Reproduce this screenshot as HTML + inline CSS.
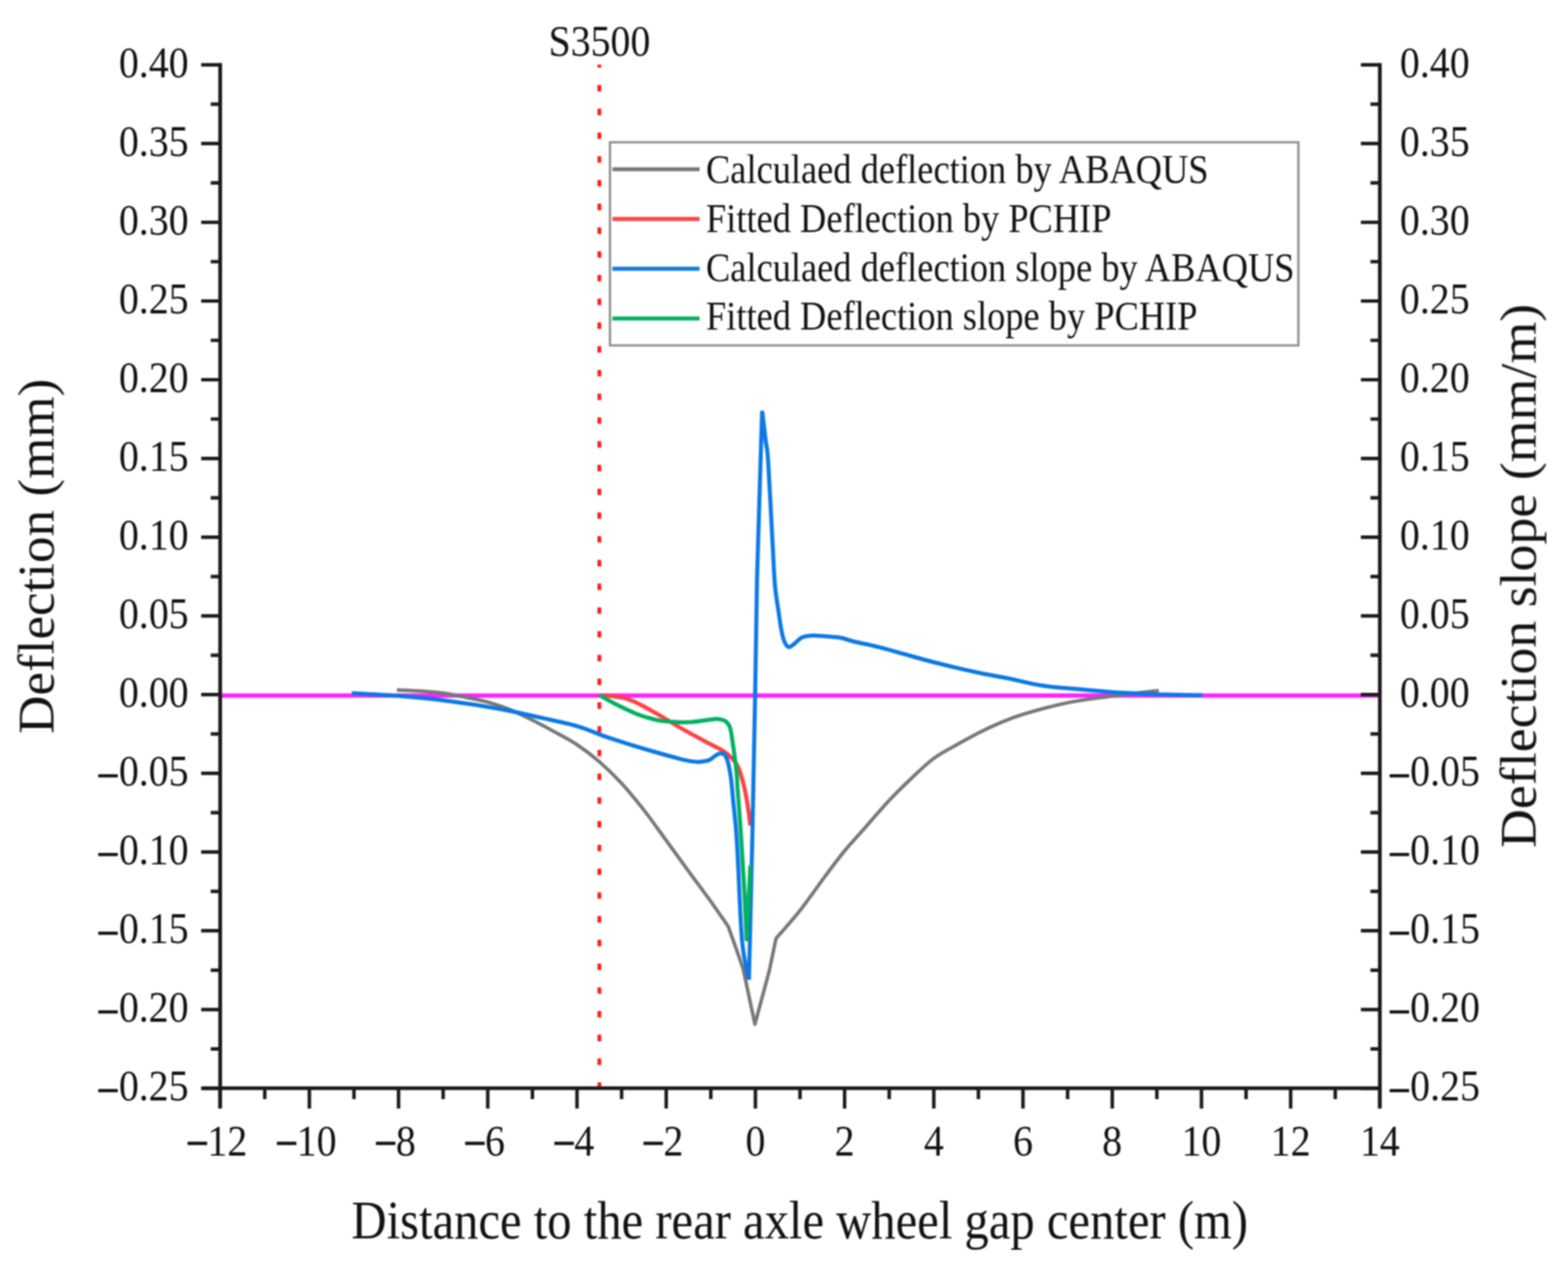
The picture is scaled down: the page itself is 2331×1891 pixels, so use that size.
<!DOCTYPE html>
<html lang="en"><head><meta charset="utf-8"><title>Deflection and deflection slope - S3500</title>
<style>html,body{margin:0;padding:0;background:#fff}svg{display:block}text{font-family:"Liberation Serif", "DejaVu Serif", serif;fill:#111}</style></head><body>
<svg xmlns="http://www.w3.org/2000/svg" width="2331" height="1891" viewBox="0 0 2331 1891">
<rect width="2331" height="1891" fill="#fff"/>
<defs><filter id="soft" x="0" y="0" width="100%" height="100%" filterUnits="objectBoundingBox" color-interpolation-filters="sRGB"><feGaussianBlur stdDeviation="1.1"/></filter></defs>
<g id="chart" filter="url(#soft)">
<line x1="327.3" y1="1032.6" x2="2051.3" y2="1032.6" stroke="#ff22ff" stroke-width="6.4" transform="translate(0 1.4)"/>
<line x1="891.0" y1="96.1" x2="891.0" y2="1617.8" stroke="#ff1a1a" stroke-width="5.6" stroke-dasharray="9.6 25.7" stroke-dashoffset="5.10"/>
<path d="M590.0,1025.7 C595.9,1026.0 614.2,1026.5 625.6,1027.3 C637.1,1028.1 647.8,1028.9 658.8,1030.4 C669.8,1032.0 680.9,1034.4 692.0,1036.6 C703.0,1038.8 714.0,1040.6 725.1,1043.7 C736.1,1046.8 747.2,1050.5 758.2,1055.0 C769.3,1059.5 780.4,1065.0 791.4,1070.5 C802.4,1076.0 813.5,1081.9 824.5,1088.0 C835.6,1094.1 846.6,1099.6 857.7,1107.0 C868.8,1114.4 880.0,1122.8 891.0,1132.4 C902.0,1142.0 912.6,1152.2 924.0,1164.6 C935.4,1177.0 948.2,1192.9 959.3,1207.0 C970.3,1221.1 979.8,1235.0 990.3,1249.3 C1000.8,1263.6 1011.0,1277.9 1022.0,1293.0 C1033.0,1308.1 1046.5,1325.9 1056.6,1340.0 C1066.7,1354.1 1078.3,1371.2 1082.6,1377.4 L1082.6,1377.4 L1096.0,1414.8 L1104.9,1441.0 L1122.3,1522.6 L1143.7,1443.0 L1153.6,1395.4 L1153.6,1395.4 C1159.5,1388.5 1177.1,1369.0 1189.2,1353.7 C1201.3,1338.4 1215.0,1318.3 1226.0,1303.5 C1237.0,1288.7 1246.2,1276.4 1255.5,1265.0 C1264.8,1253.6 1271.0,1247.5 1282.0,1235.0 C1293.0,1222.5 1309.6,1203.0 1321.8,1190.0 C1334.0,1177.0 1344.0,1167.4 1355.0,1157.0 C1366.0,1146.6 1377.3,1135.6 1388.1,1127.5 C1398.9,1119.4 1409.0,1114.8 1420.0,1108.5 C1431.0,1102.2 1443.2,1095.4 1454.4,1089.7 C1465.6,1084.0 1476.0,1079.1 1487.0,1074.5 C1498.0,1069.9 1504.0,1067.0 1520.7,1062.0 C1537.4,1057.0 1564.9,1049.2 1587.0,1044.7 C1609.1,1040.2 1630.7,1038.0 1653.3,1035.0 C1675.9,1032.0 1711.0,1027.9 1722.6,1026.5" fill="none" stroke="#777" stroke-width="5.2" stroke-linejoin="round"/>
<path d="M897.4,1033.4 C903.6,1034.5 922.4,1035.6 934.9,1039.8 C947.4,1044.0 959.8,1051.7 972.3,1058.6 C984.8,1065.5 997.2,1073.8 1009.7,1081.0 C1022.2,1088.2 1036.3,1095.7 1047.2,1101.6 C1058.1,1107.5 1068.4,1112.2 1075.3,1116.6 C1082.2,1121.0 1084.7,1123.8 1088.4,1127.8 C1092.1,1131.8 1094.9,1134.7 1097.7,1140.9 C1100.5,1147.2 1103.0,1156.6 1105.2,1165.3 C1107.4,1174.0 1109.1,1183.0 1110.8,1193.3 C1112.5,1203.6 1114.7,1221.4 1115.5,1227.0" fill="none" stroke="#ff4040" stroke-width="6" stroke-linejoin="round"/>
<path d="M523.0,1030.5 C534.5,1031.2 568.3,1032.6 592.3,1034.6 C616.3,1036.5 642.2,1039.0 667.2,1042.2 C692.2,1045.4 717.0,1049.2 742.0,1053.8 C767.0,1058.4 797.3,1065.4 817.0,1069.8 C836.7,1074.2 846.6,1076.0 860.0,1080.1 C873.4,1084.1 884.9,1089.7 897.4,1094.1 C909.9,1098.5 922.4,1102.4 934.9,1106.3 C947.4,1110.2 959.8,1113.9 972.3,1117.5 C984.8,1121.1 1000.3,1125.4 1009.7,1127.8 C1019.1,1130.2 1023.2,1131.1 1028.5,1131.9 C1033.8,1132.7 1037.2,1132.9 1041.6,1132.5 C1046.0,1132.1 1051.0,1131.3 1054.7,1129.7 C1058.4,1128.1 1061.2,1124.7 1064.0,1123.1 C1066.8,1121.5 1069.2,1120.0 1071.5,1120.0 C1073.8,1120.0 1076.2,1120.5 1078.1,1123.1 C1080.0,1125.6 1081.3,1129.8 1082.7,1135.3 C1084.1,1140.8 1085.2,1146.2 1086.5,1155.9 C1087.8,1165.6 1089.0,1180.8 1090.2,1193.3 C1091.5,1205.8 1092.9,1217.2 1094.0,1230.8 C1095.1,1244.4 1095.2,1246.8 1096.8,1275.0 C1098.3,1303.2 1100.5,1369.5 1103.3,1399.7 C1106.1,1430.0 1111.7,1447.0 1113.4,1456.5 L1113.4,1456.5 L1118.3,1250.0 L1122.6,1033.0 L1125.4,860.0 L1130.6,687.0 L1133.0,610.8 L1138.9,660.0 L1138.9,660.0 C1139.5,665.4 1140.2,659.0 1142.0,687.0 C1143.8,715.0 1146.2,765.4 1148.1,800.0 C1150.0,834.6 1150.2,843.0 1151.3,860.0 C1152.4,877.0 1152.5,875.1 1153.8,885.2 C1155.1,895.3 1156.1,900.4 1157.6,910.5 C1159.1,920.6 1159.8,927.3 1161.4,935.7 C1163.0,944.1 1163.6,947.3 1165.6,952.5 C1167.6,957.7 1169.0,960.2 1171.5,961.6 C1174.0,963.0 1175.5,960.8 1178.0,959.3 C1180.5,957.8 1181.2,956.6 1184.1,954.2 C1187.0,951.8 1188.3,949.3 1192.5,947.5 C1196.7,945.7 1200.1,945.5 1205.1,945.0 C1210.1,944.5 1211.8,944.9 1217.7,945.2 C1223.6,945.5 1227.9,945.9 1234.6,946.6 C1241.3,947.3 1244.6,947.1 1251.4,948.5 C1258.2,949.9 1257.6,950.8 1268.5,953.5 C1279.4,956.2 1290.9,958.2 1305.9,961.9 C1320.9,965.6 1328.3,968.1 1343.3,972.2 C1358.3,976.3 1365.8,978.6 1380.8,982.5 C1395.8,986.4 1403.2,988.3 1418.2,991.9 C1433.2,995.5 1439.2,996.9 1455.6,1000.3 C1472.0,1003.7 1481.1,1004.9 1500.0,1008.7 C1518.9,1012.5 1527.8,1015.9 1550.0,1019.2 C1572.2,1022.5 1586.5,1023.0 1610.8,1025.2 C1635.1,1027.4 1647.2,1028.6 1671.5,1030.1 C1695.8,1031.6 1709.1,1031.8 1732.3,1032.5 C1755.5,1033.2 1776.5,1033.5 1787.5,1033.7" fill="none" stroke="#0a78e6" stroke-width="6" stroke-linejoin="bevel"/>
<path d="M891.0,1033.4 C895.2,1035.7 907.3,1042.8 916.2,1047.3 C925.1,1051.8 936.6,1057.2 944.2,1060.4 C951.8,1063.6 956.0,1064.8 962.0,1066.6 C968.0,1068.4 973.2,1070.1 980.0,1071.2 C986.8,1072.3 995.0,1072.8 1002.5,1073.2 C1010.0,1073.6 1017.9,1073.9 1025.0,1073.6 C1032.1,1073.3 1038.8,1072.1 1045.0,1071.3 C1051.2,1070.5 1057.8,1069.2 1062.3,1068.9 C1066.8,1068.6 1069.1,1068.9 1072.0,1069.6 C1074.9,1070.2 1077.5,1071.2 1079.5,1072.8 C1081.5,1074.4 1083.0,1076.6 1084.2,1079.0 C1085.4,1081.4 1085.9,1083.5 1086.6,1087.0 C1087.3,1090.5 1087.9,1095.3 1088.6,1100.0 C1089.3,1104.7 1090.1,1109.7 1090.8,1114.9 C1091.5,1120.1 1092.2,1124.8 1093.0,1131.0 C1093.8,1137.2 1094.7,1145.1 1095.3,1152.3 C1095.9,1159.5 1095.7,1161.0 1096.6,1174.0 C1097.5,1187.0 1099.5,1210.7 1100.8,1230.0 C1102.1,1249.3 1103.5,1272.8 1104.5,1290.0 C1105.5,1307.2 1106.1,1315.2 1107.0,1333.0 C1107.9,1350.8 1109.5,1385.9 1110.0,1396.5 L1110.0,1396.5 L1115.5,1286.5" fill="none" stroke="#00b060" stroke-width="6" stroke-linejoin="round"/>
<g stroke="#1a1a1a" fill="none">
<path d="M327.3,93.8 V1648.1 M2051.3,93.8 V1648.1 M299.1,1617.8 H2051.3" stroke-width="5.6"/>
<path d="M299.1,96.4H327.3 M2023.1,96.4H2051.3 M313.3,154.9H327.3 M2037.3,154.9H2051.3 M299.1,213.4H327.3 M2023.1,213.4H2051.3 M313.3,271.9H327.3 M2037.3,271.9H2051.3 M299.1,330.5H327.3 M2023.1,330.5H2051.3 M313.3,389.0H327.3 M2037.3,389.0H2051.3 M299.1,447.5H327.3 M2023.1,447.5H2051.3 M313.3,506.0H327.3 M2037.3,506.0H2051.3 M299.1,564.5H327.3 M2023.1,564.5H2051.3 M313.3,623.0H327.3 M2037.3,623.0H2051.3 M299.1,681.6H327.3 M2023.1,681.6H2051.3 M313.3,740.1H327.3 M2037.3,740.1H2051.3 M299.1,798.6H327.3 M2023.1,798.6H2051.3 M313.3,857.1H327.3 M2037.3,857.1H2051.3 M299.1,915.6H327.3 M2023.1,915.6H2051.3 M313.3,974.1H327.3 M2037.3,974.1H2051.3 M299.1,1032.6H327.3 M2023.1,1032.6H2051.3 M313.3,1091.2H327.3 M2037.3,1091.2H2051.3 M299.1,1149.7H327.3 M2023.1,1149.7H2051.3 M313.3,1208.2H327.3 M2037.3,1208.2H2051.3 M299.1,1266.7H327.3 M2023.1,1266.7H2051.3 M313.3,1325.2H327.3 M2037.3,1325.2H2051.3 M299.1,1383.7H327.3 M2023.1,1383.7H2051.3 M313.3,1442.3H327.3 M2037.3,1442.3H2051.3 M299.1,1500.8H327.3 M2023.1,1500.8H2051.3 M313.3,1559.3H327.3 M2037.3,1559.3H2051.3 M299.1,1617.8H327.3 M2023.1,1617.8H2051.3 M327.3,1617.8V1648.1 M393.6,1617.8V1634.1 M459.9,1617.8V1648.1 M526.2,1617.8V1634.1 M592.5,1617.8V1648.1 M658.8,1617.8V1634.1 M725.1,1617.8V1648.1 M791.5,1617.8V1634.1 M857.8,1617.8V1648.1 M924.1,1617.8V1634.1 M990.4,1617.8V1648.1 M1056.7,1617.8V1634.1 M1123.0,1617.8V1648.1 M1189.3,1617.8V1634.1 M1255.6,1617.8V1648.1 M1321.9,1617.8V1634.1 M1388.2,1617.8V1648.1 M1454.5,1617.8V1634.1 M1520.8,1617.8V1648.1 M1587.1,1617.8V1634.1 M1653.5,1617.8V1648.1 M1719.8,1617.8V1634.1 M1786.1,1617.8V1648.1 M1852.4,1617.8V1634.1 M1918.7,1617.8V1648.1 M1985.0,1617.8V1634.1 M2051.3,1617.8V1648.1 " stroke-width="5.2"/>
</g>
<text transform="translate(176.7 114.7) scale(0.9050 1)" font-size="65.5">0.40</text>
<text transform="translate(2081.1 114.7) scale(0.9050 1)" font-size="65.5">0.40</text>
<text transform="translate(176.7 231.7) scale(0.9050 1)" font-size="65.5">0.35</text>
<text transform="translate(2081.1 231.7) scale(0.9050 1)" font-size="65.5">0.35</text>
<text transform="translate(176.7 348.8) scale(0.9050 1)" font-size="65.5">0.30</text>
<text transform="translate(2081.1 348.8) scale(0.9050 1)" font-size="65.5">0.30</text>
<text transform="translate(176.7 465.8) scale(0.9050 1)" font-size="65.5">0.25</text>
<text transform="translate(2081.1 465.8) scale(0.9050 1)" font-size="65.5">0.25</text>
<text transform="translate(176.7 582.8) scale(0.9050 1)" font-size="65.5">0.20</text>
<text transform="translate(2081.1 582.8) scale(0.9050 1)" font-size="65.5">0.20</text>
<text transform="translate(176.7 699.9) scale(0.9050 1)" font-size="65.5">0.15</text>
<text transform="translate(2081.1 699.9) scale(0.9050 1)" font-size="65.5">0.15</text>
<text transform="translate(176.7 816.9) scale(0.9050 1)" font-size="65.5">0.10</text>
<text transform="translate(2081.1 816.9) scale(0.9050 1)" font-size="65.5">0.10</text>
<text transform="translate(176.7 933.9) scale(0.9050 1)" font-size="65.5">0.05</text>
<text transform="translate(2081.1 933.9) scale(0.9050 1)" font-size="65.5">0.05</text>
<text transform="translate(176.7 1050.9) scale(0.9050 1)" font-size="65.5">0.00</text>
<text transform="translate(2081.1 1050.9) scale(0.9050 1)" font-size="65.5">0.00</text>
<text transform="translate(143.2 1168.0) scale(0.9050 1)" font-size="65.5"><tspan dx="1.0" dy="6.5" stroke="#111" stroke-width="1.6">−</tspan><tspan dx="-1.0" dy="-6.5">0.05</tspan></text>
<text transform="translate(2062.9 1168.0) scale(0.9050 1)" font-size="65.5"><tspan dx="1.0" dy="6.5" stroke="#111" stroke-width="1.6">−</tspan><tspan dx="-1.0" dy="-6.5">0.05</tspan></text>
<text transform="translate(143.2 1285.0) scale(0.9050 1)" font-size="65.5"><tspan dx="1.0" dy="6.5" stroke="#111" stroke-width="1.6">−</tspan><tspan dx="-1.0" dy="-6.5">0.10</tspan></text>
<text transform="translate(2062.9 1285.0) scale(0.9050 1)" font-size="65.5"><tspan dx="1.0" dy="6.5" stroke="#111" stroke-width="1.6">−</tspan><tspan dx="-1.0" dy="-6.5">0.10</tspan></text>
<text transform="translate(143.2 1402.0) scale(0.9050 1)" font-size="65.5"><tspan dx="1.0" dy="6.5" stroke="#111" stroke-width="1.6">−</tspan><tspan dx="-1.0" dy="-6.5">0.15</tspan></text>
<text transform="translate(2062.9 1402.0) scale(0.9050 1)" font-size="65.5"><tspan dx="1.0" dy="6.5" stroke="#111" stroke-width="1.6">−</tspan><tspan dx="-1.0" dy="-6.5">0.15</tspan></text>
<text transform="translate(143.2 1519.1) scale(0.9050 1)" font-size="65.5"><tspan dx="1.0" dy="6.5" stroke="#111" stroke-width="1.6">−</tspan><tspan dx="-1.0" dy="-6.5">0.20</tspan></text>
<text transform="translate(2062.9 1519.1) scale(0.9050 1)" font-size="65.5"><tspan dx="1.0" dy="6.5" stroke="#111" stroke-width="1.6">−</tspan><tspan dx="-1.0" dy="-6.5">0.20</tspan></text>
<text transform="translate(143.2 1636.1) scale(0.9050 1)" font-size="65.5"><tspan dx="1.0" dy="6.5" stroke="#111" stroke-width="1.6">−</tspan><tspan dx="-1.0" dy="-6.5">0.25</tspan></text>
<text transform="translate(2062.9 1636.1) scale(0.9050 1)" font-size="65.5"><tspan dx="1.0" dy="6.5" stroke="#111" stroke-width="1.6">−</tspan><tspan dx="-1.0" dy="-6.5">0.25</tspan></text>
<text transform="translate(274.9 1718.4) scale(0.8914 1)" font-size="66.5"><tspan dx="2.0" dy="4.0" stroke="#111" stroke-width="1.6">−</tspan><tspan dx="-2.0" dy="-4.0">12</tspan></text>
<text transform="translate(407.6 1718.4) scale(0.8914 1)" font-size="66.5"><tspan dx="2.0" dy="4.0" stroke="#111" stroke-width="1.6">−</tspan><tspan dx="-2.0" dy="-4.0">10</tspan></text>
<text transform="translate(555.0 1718.4) scale(0.8914 1)" font-size="66.5"><tspan dx="2.0" dy="4.0" stroke="#111" stroke-width="1.6">−</tspan><tspan dx="-2.0" dy="-4.0">8</tspan></text>
<text transform="translate(687.6 1718.4) scale(0.8914 1)" font-size="66.5"><tspan dx="2.0" dy="4.0" stroke="#111" stroke-width="1.6">−</tspan><tspan dx="-2.0" dy="-4.0">6</tspan></text>
<text transform="translate(820.2 1718.4) scale(0.8914 1)" font-size="66.5"><tspan dx="2.0" dy="4.0" stroke="#111" stroke-width="1.6">−</tspan><tspan dx="-2.0" dy="-4.0">4</tspan></text>
<text transform="translate(952.8 1718.4) scale(0.8914 1)" font-size="66.5"><tspan dx="2.0" dy="4.0" stroke="#111" stroke-width="1.6">−</tspan><tspan dx="-2.0" dy="-4.0">2</tspan></text>
<text transform="translate(1108.2 1718.4) scale(0.8914 1)" font-size="66.5">0</text>
<text transform="translate(1240.8 1718.4) scale(0.8914 1)" font-size="66.5">2</text>
<text transform="translate(1373.4 1718.4) scale(0.8914 1)" font-size="66.5">4</text>
<text transform="translate(1506.0 1718.4) scale(0.8914 1)" font-size="66.5">6</text>
<text transform="translate(1638.6 1718.4) scale(0.8914 1)" font-size="66.5">8</text>
<text transform="translate(1756.4 1718.4) scale(0.8914 1)" font-size="66.5">10</text>
<text transform="translate(1889.0 1718.4) scale(0.8914 1)" font-size="66.5">12</text>
<text transform="translate(2021.7 1718.4) scale(0.8914 1)" font-size="66.5">14</text>
<text transform="translate(815.5 82.6) scale(0.8900 1)" font-size="66.5">S3500</text>
<text transform="translate(79.5 1091.0) rotate(-90) scale(1.0381 1)" font-size="76">Deflection (mm)</text>
<text transform="translate(2282.8 1260.6) rotate(-90) scale(1.0531 1)" font-size="76">Deflection slope (mm/m)</text>
<text transform="translate(522.5 1840.5) scale(0.8927 1)" font-size="81">Distance to the rear axle wheel gap center (m)</text>
<rect x="906.8" y="211.5" width="1023.4" height="302" fill="#fff" stroke="#8f8f8f" stroke-width="3.4"/>
<line x1="910.5" y1="251.6" x2="1040" y2="251.6" stroke="#757575" stroke-width="5.6"/>
<text transform="translate(1049.5 271.7) scale(0.8877 1)" font-size="61">Calculaed deflection by ABAQUS</text>
<line x1="910.5" y1="325.6" x2="1040" y2="325.6" stroke="#ff4040" stroke-width="6"/>
<text transform="translate(1049.5 344.6) scale(0.8877 1)" font-size="61">Fitted Deflection by PCHIP</text>
<line x1="910.5" y1="399.6" x2="1040" y2="399.6" stroke="#0a78e6" stroke-width="6"/>
<text transform="translate(1049.5 417.5) scale(0.8877 1)" font-size="61">Calculaed deflection slope by ABAQUS</text>
<line x1="910.5" y1="473.6" x2="1040" y2="473.6" stroke="#00b060" stroke-width="6"/>
<text transform="translate(1049.5 490.4) scale(0.8877 1)" font-size="61">Fitted Deflection slope by PCHIP</text>
</g></svg></body></html>
